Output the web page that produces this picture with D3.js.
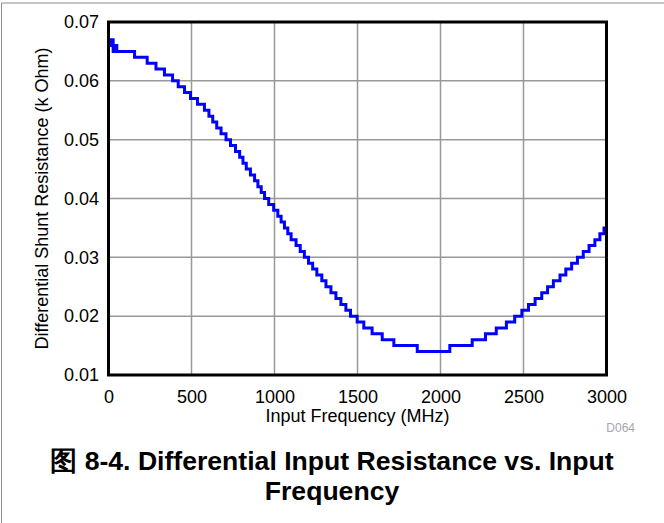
<!DOCTYPE html>
<html>
<head>
<meta charset="utf-8">
<script src="https://cdn.jsdelivr.net/npm/d3@7"></script>
<style>
  html, body { margin: 0; padding: 0; background: #fff; }
  svg { display: block; }
  text { font-family: "Liberation Sans", Arial, Helvetica, sans-serif; }
</style>
</head>
<body>
<svg id="chart" width="664" height="523"></svg>
<script>
// ---- data ----
const freqMHz = [5, 12, 28, 38, 50, 157, 233, 286, 337, 386, 420, 458, 494, 536, 578,
  605, 628, 652, 678, 708, 735, 765, 790, 810, 830, 855, 880, 900, 920, 940,
  965, 995, 1020, 1040, 1060, 1080, 1100, 1130, 1155, 1180, 1205, 1230, 1255, 1285, 1310,
  1340, 1370, 1400, 1430, 1458, 1498, 1538, 1588, 1649, 1719, 1860,
  2056, 2191, 2271, 2336, 2397, 2447, 2490, 2530, 2570, 2610, 2645, 2680, 2720, 2755,
  2790, 2825, 2860, 2895, 2930, 2960, 2985, 3000];
const resistanceKOhm = [0.066, 0.067, 0.065, 0.066, 0.065, 0.064, 0.063, 0.062, 0.061, 0.060, 0.059, 0.058, 0.057, 0.056, 0.055,
  0.054, 0.053, 0.052, 0.051, 0.050, 0.049, 0.048, 0.047, 0.046, 0.045, 0.044, 0.043, 0.042, 0.041, 0.040,
  0.039, 0.038, 0.037, 0.036, 0.035, 0.034, 0.033, 0.032, 0.031, 0.030, 0.029, 0.028, 0.027, 0.026, 0.025,
  0.024, 0.023, 0.022, 0.021, 0.020, 0.019, 0.018, 0.017, 0.016, 0.015, 0.014,
  0.015, 0.016, 0.017, 0.018, 0.019, 0.020, 0.021, 0.022, 0.023, 0.024, 0.025, 0.026, 0.027, 0.028,
  0.029, 0.030, 0.031, 0.032, 0.033, 0.034, 0.035, 0.035];
const xTicks = [0, 500, 1000, 1500, 2000, 2500, 3000];
const yTicks = [0.01, 0.02, 0.03, 0.04, 0.05, 0.06, 0.07];
const xTitle = "Input Frequency (MHz)";
const yTitle = "Differential Shunt Resistance (k Ohm)";
const figTitle1 = "图 8-4. Differential Input Resistance vs. Input";
const figTitle2 = "Frequency";
const figCode = "D064";

// ---- layout ----
const pL = 108.5, pR = 606.5, pT = 22, pB = 375;
const svg = d3.select("#chart");
svg.append("rect").attr("width", 664).attr("height", 523).attr("fill", "#fff");

// page border (top & left visible)
svg.append("line").attr("x1", 1.5).attr("x2", 664).attr("y1", 3).attr("y2", 3)
  .attr("stroke", "#8c8c8c").attr("stroke-width", 1);
svg.append("line").attr("x1", 1.5).attr("x2", 1.5).attr("y1", 3).attr("y2", 523)
  .attr("stroke", "#8c8c8c").attr("stroke-width", 1);

const x = d3.scaleLinear().domain([0, 3000]).range([pL, pR]);
const y = d3.scaleLinear().domain([0.01, 0.07]).range([pB, pT]);

// grid
const grid = svg.append("g");
grid.selectAll("line.v").data(xTicks.slice(1, -1)).join("line").attr("class", "v")
  .attr("x1", d => x(d)).attr("x2", d => x(d)).attr("y1", pT).attr("y2", pB)
  .attr("stroke", "#999").attr("stroke-width", 1.5);
grid.selectAll("line.h").data(yTicks.slice(1, -1)).join("line").attr("class", "h")
  .attr("x1", pL).attr("x2", pR).attr("y1", d => y(d)).attr("y2", d => y(d))
  .attr("stroke", "#999").attr("stroke-width", 1.5);

// axes (labels only, via d3 axes)
const xAxis = svg.append("g").attr("transform", `translate(0,${pB})`)
  .call(d3.axisBottom(x).tickValues(xTicks).tickFormat(d3.format("d")).tickSize(0).tickPadding(0));
xAxis.select(".domain").remove();
xAxis.selectAll("text").attr("font-size", 18).attr("fill", "#000")
  .attr("font-family", "Liberation Sans, Arial, sans-serif")
  .attr("dy", null).attr("y", 28.3);

const yAxis = svg.append("g").attr("transform", `translate(${pL},0)`)
  .call(d3.axisLeft(y).tickValues(yTicks).tickFormat(d3.format(".2f")).tickSize(0).tickPadding(9.5));
yAxis.select(".domain").remove();
yAxis.selectAll("text").attr("font-size", 18).attr("fill", "#000")
  .attr("font-family", "Liberation Sans, Arial, sans-serif");

// data line
const pts = freqMHz.map((f, i) => [f, resistanceKOhm[i]]);
const line = d3.line().x(d => x(d[0])).y(d => y(d[1])).curve(d3.curveStepAfter);
svg.append("path").datum(pts).attr("d", line)
  .attr("fill", "none").attr("stroke", "#0000ff").attr("stroke-width", 3)
  .attr("stroke-linejoin", "miter");

// frame
svg.append("rect").attr("x", pL).attr("y", pT)
  .attr("width", pR - pL).attr("height", pB - pT)
  .attr("fill", "none").attr("stroke", "#000").attr("stroke-width", 3);

// axis titles
svg.append("text").attr("x", (pL + pR) / 2).attr("y", 422)
  .attr("text-anchor", "middle").attr("font-size", 18).text(xTitle);
svg.append("text").attr("transform", `translate(48,${(pT + pB) / 2}) rotate(-90)`)
  .attr("text-anchor", "middle").attr("font-size", 18).text(yTitle);
svg.append("text").attr("x", 635).attr("y", 432).attr("text-anchor", "end")
  .attr("font-size", 12).attr("fill", "#a6a6a6").text(figCode);

// figure title
svg.append("text").attr("x", 332).attr("y", 470).attr("text-anchor", "middle")
  .attr("font-size", 26.6).attr("font-weight", "bold")
  .attr("font-family", "Liberation Sans, Arial, 'Noto Sans CJK SC', sans-serif")
  .text(figTitle1);
svg.append("text").attr("x", 332).attr("y", 500).attr("text-anchor", "middle")
  .attr("font-size", 26.6).attr("font-weight", "bold").text(figTitle2);
</script>
</body>
</html>
